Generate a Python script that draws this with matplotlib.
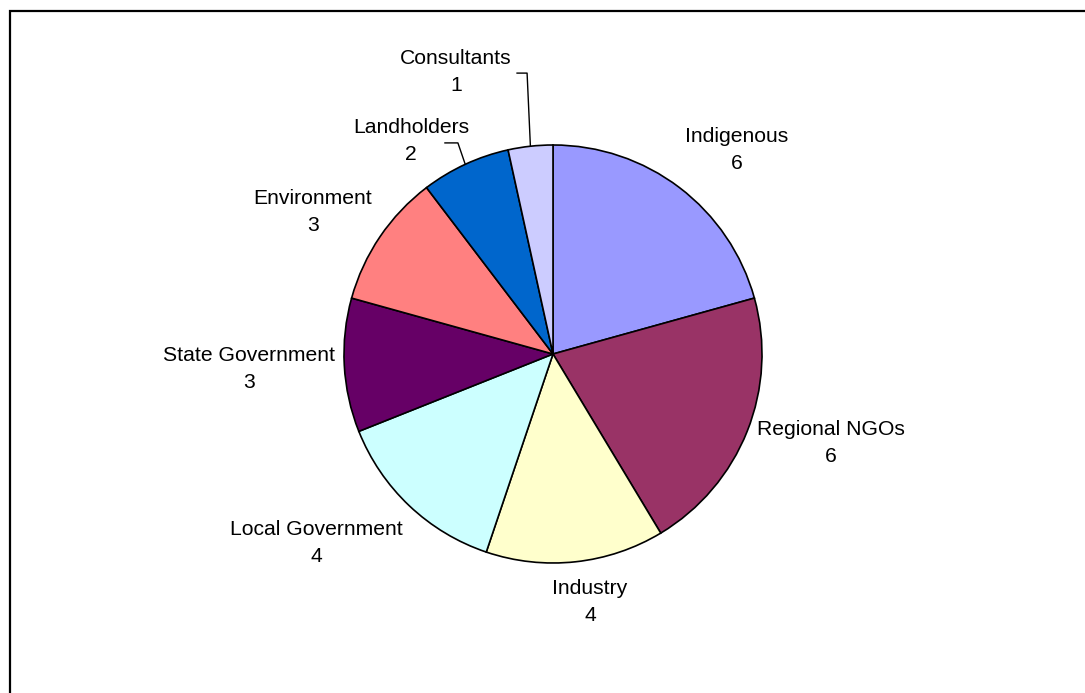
import matplotlib.pyplot as plt
from matplotlib.patches import Rectangle
import numpy as np

plt.rcParams['font.family'] = ['Liberation Sans', 'DejaVu Sans']

groups = ['Indigenous', 'Regional NGOs', 'Industry', 'Local Government',
          'State Government', 'Environment', 'Landholders', 'Consultants']
counts = [6, 6, 4, 4, 3, 3, 2, 1]
colors = ['#9999FF', '#993366', '#FFFFCC', '#CCFFFF',
          '#660066', '#FF8080', '#0066CC', '#CCCCFF']

# label centres in pie units (radius = 1)
label_pos = [(0.880, 0.976), (1.330, -0.426), (0.177, -1.187), (-1.134, -0.904),
             (-1.455, -0.072), (-1.148, 0.679), (-0.679, 1.019), (-0.464, 1.349)]
# leader lines (start, elbow) for the small slices
leaders = {'Landholders': [(-0.517, 1.010), (-0.455, 1.010)],
           'Consultants': [(-0.172, 1.344), (-0.124, 1.344)]}

W, H = 1085, 693
fig = plt.figure(figsize=(W / 100, H / 100), dpi=100)
fig.patches.append(Rectangle((10 / W, -0.1), 1.2, 1 - 11 / H + 0.1,
                             transform=fig.transFigure, fill=False,
                             edgecolor='black', linewidth=1.6))

cx, cy, r = 553, 354, 209
ax = fig.add_axes([(cx - r) / W, (H - cy - r) / H, 2 * r / W, 2 * r / H])
wedges, _ = ax.pie(counts, colors=colors, startangle=90, counterclock=False,
                   radius=1, wedgeprops=dict(edgecolor='black', linewidth=1.2))
ax.set_xlim(-1, 1)
ax.set_ylim(-1, 1)
ax.set_aspect('equal')
ax.axis('off')

for w, name, n, (lx, ly) in zip(wedges, groups, counts, label_pos):
    ax.text(lx, ly, f'{name}\n{n}', ha='center', va='center', fontsize=15.2,
            linespacing=1.55, clip_on=False)
    if name in leaders:
        ang = np.deg2rad((w.theta1 + w.theta2) / 2)
        pts = leaders[name] + [(np.cos(ang), np.sin(ang))]
        ax.plot([p[0] for p in pts], [p[1] for p in pts], color='black',
                linewidth=1, clip_on=False)

fig.savefig('out.png', dpi=100)
